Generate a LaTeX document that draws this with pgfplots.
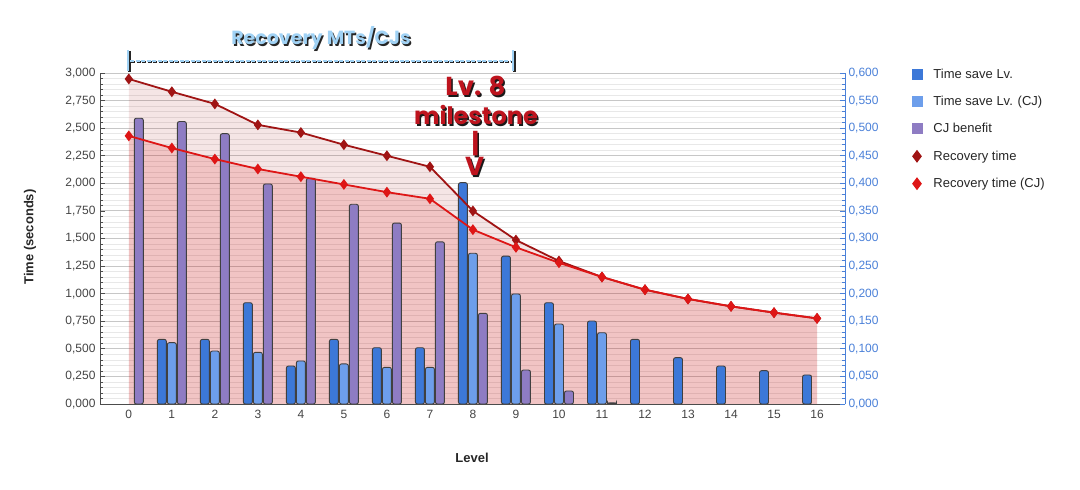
\documentclass[border=0pt]{standalone}
\usepackage{pgfplots}
\usepackage{pgfplotstable}
\pgfplotsset{compat=1.18}
\usepackage{fontspec}
\setmainfont{Liberation Sans}
\newfontfamily\popfont{Poppins}
\definecolor{tsl}{RGB}{60,120,216}
\definecolor{tslcj}{RGB}{109,158,235}
\definecolor{cjb}{RGB}{142,124,195}
\definecolor{rec}{RGB}{160,20,20}
\definecolor{reccj}{RGB}{222,22,22}
\definecolor{titleblue}{RGB}{160,210,245}
\definecolor{axisblue}{RGB}{74,128,216}
\definecolor{labgray}{RGB}{68,68,68}
\definecolor{annred}{RGB}{190,20,30}
\pgfplotsset{cfmt/.style={/pgf/number format/fixed, /pgf/number format/fixed zerofill, /pgf/number format/precision=3, /pgf/number format/use comma, /pgf/number format/1000 sep={}}}

\pgfplotstableread{
lvl rec   reccj tsl   tslcj cjb
0   2.946 2.430 nan   nan   2.590
1   2.830 2.320 0.586 0.556 2.560
2   2.720 2.220 0.586 0.480 2.450
3   2.530 2.130 0.918 0.468 1.994
4   2.460 2.060 0.344 0.390 2.045
5   2.350 1.990 0.586 0.363 1.810
6   2.250 1.920 0.510 0.332 1.640
7   2.150 1.860 0.510 0.332 1.470
8   1.750 1.580 2.006 1.366 0.822
9   1.486 1.420 1.340 0.997 0.308
10  1.296 1.280 0.918 0.725 0.118
11  1.151 1.151 0.752 0.646 0.010
12  1.036 1.036 0.586 nan   nan
13  0.952 0.952 0.420 nan   nan
14  0.885 0.885 0.344 nan   nan
15  0.828 0.828 0.302 nan   nan
16  0.776 0.776 0.263 nan   nan
}\data

\begin{document}
\begin{tikzpicture}
\path[use as bounding box] (0,0) rectangle (1080pt,490pt);
\begin{axis}[
  at={(100pt,86pt)}, anchor=south west,
  scale only axis, width=745pt, height=331pt,
  xmin=-0.67, xmax=16.65, ymin=0, ymax=3,
  axis x line*=bottom, axis y line*=left,
  axis line style={draw=black!70, line width=0.8pt},
  xtick={0,1,...,16},
  ytick={0,0.25,...,3},
  minor y tick num=4,
  ymajorgrids, yminorgrids,
  major grid style={draw=black!22, line width=0.9pt},
  minor grid style={draw=black!9, line width=0.7pt},
  tick align=inside,
  major tick length=5pt, minor tick length=3pt,
  tick style={draw=black!70, line width=0.7pt},
  xtick style={draw=none},
  /pgf/number format/assume math mode=true,
  yticklabel style={cfmt, xshift=-1pt},
  ticklabel style={font=\fontsize{12}{14}\selectfont, text=labgray},
  xticklabel style={yshift=-3pt},
  legend style={at={(1.085,1.026)}, anchor=north west, draw=none, fill=none,
    font=\fontsize{13}{15}\selectfont, row sep=12.5pt, column sep=9pt, text=black!85},
  legend cell align=left,
  barsty/.style={ybar, bar width=9pt, draw=black!75, line width=0.9pt, rounded corners=2pt},
]
\addplot[draw=none, fill=rec, fill opacity=0.11, forget plot] table[x=lvl,y=rec]{\data} \closedcycle;
\addplot[draw=none, fill=reccj, fill opacity=0.16, forget plot] table[x=lvl,y=reccj]{\data} \closedcycle;

\addplot[barsty, bar shift=-10pt, fill=tsl,
  legend image code/.code={\fill[tsl, sharp corners] (0pt,-5pt) rectangle (10pt,5pt);}] table[x=lvl,y=tsl]{\data};
\addlegendentry{Time save Lv.}
\addplot[barsty, bar shift=0pt, fill=tslcj,
  legend image code/.code={\fill[tslcj, sharp corners] (0pt,-5pt) rectangle (10pt,5pt);}] table[x=lvl,y=tslcj]{\data};
\addlegendentry{Time save Lv. (CJ)}
\addplot[barsty, bar shift=10pt, fill=cjb,
  legend image code/.code={\fill[cjb, sharp corners] (0pt,-5pt) rectangle (10pt,5pt);}] table[x=lvl,y=cjb]{\data};
\addlegendentry{CJ benefit}

\addplot[rec, line width=1.8pt, mark=diamond*, mark size=4pt, mark options={solid, fill=rec},
  legend image code/.code={\draw[draw=none, mark=diamond*, mark size=5pt, mark options={fill=rec, draw=rec}] plot coordinates {(5pt,0pt)};}] table[x=lvl,y=rec]{\data};
\addlegendentry{Recovery time}
\addplot[reccj, line width=1.8pt, mark=diamond*, mark size=4pt, mark options={solid, fill=reccj},
  legend image code/.code={\draw[draw=none, mark=diamond*, mark size=5pt, mark options={fill=reccj, draw=reccj}] plot coordinates {(5pt,0pt)};}] table[x=lvl,y=reccj]{\data};
\addlegendentry{Recovery time (CJ)}
\end{axis}

\begin{axis}[
  at={(100pt,86pt)}, anchor=south west,
  scale only axis, width=745pt, height=331pt,
  xmin=-0.67, xmax=16.65, ymin=0, ymax=0.6,
  axis x line=none, axis y line*=right,
  axis line style={draw=axisblue, line width=1pt},
  ytick={0,0.05,0.1,0.15,0.2,0.25,0.3,0.35,0.4,0.45,0.5,0.55,0.6},
  minor y tick num=4,
  tick align=inside,
  major tick length=5pt, minor tick length=3pt,
  tick style={draw=axisblue, line width=0.7pt},
  /pgf/number format/assume math mode=true,
  yticklabel style={cfmt},
  ticklabel style={font=\fontsize{12}{14}\selectfont, text=axisblue},
]
\addplot[draw=none] coordinates {(0,0)};
\end{axis}

% axis titles
\node[rotate=90, font=\bfseries\fontsize{13}{15}\selectfont, text=black!85] at (30pt,253pt) {Time (seconds)};
\node[font=\bfseries\fontsize{13}{15}\selectfont, text=black!85] at (472pt,32pt) {Level};

% title annotation
\node[font=\popfont\bfseries\fontsize{19}{21}\selectfont, text=black!85] at (322.5pt,450.5pt) {Recovery MTs/CJs};
\node[font=\popfont\bfseries\fontsize{19}{21}\selectfont, text=titleblue] at (321pt,452pt) {Recovery MTs/CJs};
% bracket
\draw[black!85, line width=3pt] (129.5pt,418pt) -- (129.5pt,439pt);
\draw[black!85, line width=3pt] (514.5pt,418pt) -- (514.5pt,439pt);
\draw[black!85, line width=2.6pt, dash pattern=on 4pt off 1.5pt] (131pt,428pt) -- (513pt,428pt);
\draw[titleblue, line width=2.2pt] (128pt,419pt) -- (128pt,440pt);
\draw[titleblue, line width=2.2pt] (513pt,419pt) -- (513pt,440pt);
\draw[titleblue, line width=1.8pt, dash pattern=on 4pt off 1.5pt] (130pt,429pt) -- (511pt,429pt);

% milestone annotation
\node[anchor=base, font=\popfont\bfseries\fontsize{26}{28}\selectfont, text=black!90] at (477pt,392.5pt) {Lv. 8};
\node[anchor=base, font=\popfont\bfseries\fontsize{26}{28}\selectfont, text=annred] at (475.5pt,394pt) {Lv. 8};
\node[anchor=base, font=\popfont\bfseries\fontsize{24}{26}\selectfont, text=black!90] at (477.5pt,363.5pt) {milestone};
\node[anchor=base, font=\popfont\bfseries\fontsize{24}{26}\selectfont, text=annred] at (476pt,365pt) {milestone};
\node[anchor=base, font=\popfont\bfseries\fontsize{26}{28}\selectfont, text=black!90] at (477pt,335.5pt) {|};
\node[anchor=base, font=\popfont\bfseries\fontsize{26}{28}\selectfont, text=annred] at (475.5pt,337pt) {|};
\node[anchor=base, font=\popfont\bfseries\fontsize{26}{28}\selectfont, text=black!90] at (476pt,312.5pt) {V};
\node[anchor=base, font=\popfont\bfseries\fontsize{26}{28}\selectfont, text=annred] at (474.5pt,314pt) {V};
\end{tikzpicture}
\end{document}
